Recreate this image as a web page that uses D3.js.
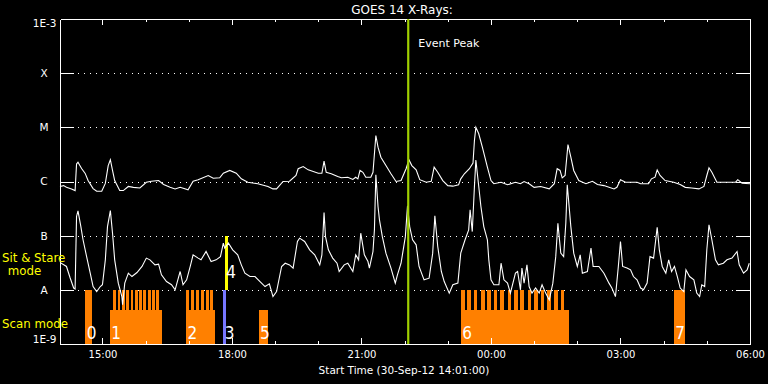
<!DOCTYPE html>
<html><head><meta charset="utf-8">
<script src="https://cdn.jsdelivr.net/npm/d3@7"></script>
<style>html,body{margin:0;padding:0;background:#000;}svg{display:block;}</style>
</head><body>
<svg id="chart" width="768" height="384"></svg>
<script>
// ---------------- DATA ----------------
// time = minutes after 30-Sep-2012 14:00 UT ; flux in W/m^2
const titleText = "GOES 14 X-Rays:";
const xAxisTitle = "Start Time (30-Sep-12 14:01:00)";
const timeDomain = [1, 960];               // 14:01 .. 06:00
const timeTickMinutes = [60, 240, 420, 600, 780, 960];
const timeTickLabels = ["15:00", "18:00", "21:00", "00:00", "03:00", "06:00"];
const fluxDomain = [1e-9, 1e-3];
const classFlux = [1e-8, 1e-7, 1e-6, 1e-5, 1e-4];
const classLabels = ["A", "B", "C", "M", "X"];
const endFlux = [1e-9, 1e-3];
const endLabels = ["1E-9", "1E-3"];
const eventPeakMinute = 485;
const eventPeakLabel = "Event Peak";

// GOES long channel (1-8 A)
const goesLong = [[1,8.1e-7],[6,8.4e-7],[10,7.8e-7],[17,7.3e-7],[22,6.8e-7],[24,2.1e-6],[26,2.27e-6],[31,1.74e-6],[36,1.41e-6],[40,1.04e-6],[47,7.4e-7],[52,6.6e-7],[59,6.6e-7],[64,9.2e-7],[68,1.97e-6],[71,2.52e-6],[74,1.6e-6],[77,1.04e-6],[84,6.8e-7],[89,6.8e-7],[96,8.1e-7],[103,7.8e-7],[112,7.6e-7],[121,9.7e-7],[128,1.01e-6],[138,1.04e-6],[145,8.8e-7],[154,7.8e-7],[161,7.3e-7],[168,7.8e-7],[179,7.0e-7],[186,1.01e-6],[193,1.08e-6],[207,1.29e-6],[214,1.15e-6],[223,1.17e-6],[228,1.42e-6],[237,1.6e-6],[246,1.42e-6],[253,1.12e-6],[262,9.7e-7],[276,9.1e-7],[290,8.1e-7],[297,7.3e-7],[302,7.3e-7],[311,1.0e-6],[320,1.01e-6],[329,1.29e-6],[332,1.72e-6],[339,1.89e-6],[346,1.64e-6],[360,1.42e-6],[365,1.42e-6],[368,2.37e-6],[371,1.48e-6],[378,1.39e-6],[387,1.24e-6],[392,1.17e-6],[401,1.2e-6],[408,1.09e-6],[412,1.2e-6],[415,1.12e-6],[418,1.6e-6],[422,1.48e-6],[426,1.2e-6],[433,1.2e-6],[436,1.48e-6],[440,7.07e-6],[443,4.3e-6],[447,2.81e-6],[454,1.97e-6],[461,1.39e-6],[468,1.0e-6],[475,1.04e-6],[482,1.72e-6],[486,2.52e-6],[490,1.97e-6],[496,1.64e-6],[501,1.08e-6],[510,9.7e-7],[517,1.01e-6],[521,1.84e-6],[526,1.48e-6],[533,1.04e-6],[540,8.4e-7],[547,8.2e-7],[555,8.7e-7],[558,1.12e-6],[563,1.39e-6],[570,1.72e-6],[575,2.18e-6],[577,5.7e-6],[579,1.0e-5],[583,7.6e-6],[588,4.3e-6],[595,1.84e-6],[600,1.04e-6],[604,9.1e-7],[614,9.7e-7],[623,8.7e-7],[634,9.7e-7],[641,9.1e-7],[646,1.0e-6],[653,9.1e-7],[660,7.8e-7],[669,8.1e-7],[681,7.3e-7],[688,9.1e-7],[692,1.72e-6],[696,1.6e-6],[699,1.17e-6],[703,1.29e-6],[707,4.82e-6],[711,2.81e-6],[715,1.6e-6],[722,1.04e-6],[732,9.1e-7],[741,1.01e-6],[748,8.8e-7],[757,8.4e-7],[771,7.3e-7],[775,7.8e-7],[780,1.08e-6],[787,9.7e-7],[803,9.7e-7],[808,9.1e-7],[819,9.1e-7],[823,1.12e-6],[828,1.2e-6],[831,1.64e-6],[835,1.29e-6],[842,1.04e-6],[854,9.7e-7],[863,8.8e-7],[870,7.8e-7],[879,7.6e-7],[889,7.3e-7],[896,8.1e-7],[900,1.29e-6],[903,1.79e-6],[907,1.48e-6],[914,9.7e-7],[940,9.7e-7],[943,1.08e-6],[949,9.3e-7],[960,9.1e-7]];

// GOES short channel (0.5-4 A)
const goesShort = [[1,3.4e-8],[2,3.15e-8],[10,2.7e-8],[15,1.67e-8],[20,1.08e-8],[22,1.04e-8],[24,2.26e-7],[26,2.87e-7],[30,1.47e-7],[33,8.4e-8],[38,4.1e-8],[43,2.03e-8],[47,1.15e-8],[52,9.3e-9],[57,1.15e-8],[60,1.24e-8],[64,3.58e-8],[67,1.47e-7],[71,2.9e-7],[74,1.11e-7],[77,3.58e-8],[82,1.33e-8],[87,7.5e-9],[88,5.3e-9],[91,1.33e-8],[96,2.03e-8],[101,1.76e-8],[108,2.09e-8],[115,2.7e-8],[121,3.85e-8],[126,3.58e-8],[133,2.89e-8],[138,2.98e-8],[142,1.89e-8],[149,1.42e-8],[156,1.24e-8],[161,1.0e-8],[166,1.76e-8],[168,2.18e-8],[172,1.24e-8],[177,1.53e-8],[182,2.7e-8],[186,4.43e-8],[193,3.85e-8],[197,3.58e-8],[204,5.1e-8],[211,3.33e-8],[218,3.58e-8],[224,4.1e-8],[228,7.3e-8],[230,5.9e-8],[235,7.3e-8],[241,5.48e-8],[248,4.43e-8],[253,2.89e-8],[258,2.03e-8],[265,1.76e-8],[272,1.76e-8],[279,1.42e-8],[286,1.15e-8],[292,1.29e-8],[297,7.5e-9],[302,9.3e-9],[309,2.7e-8],[314,3.1e-8],[320,2.89e-8],[325,2.52e-8],[331,7.8e-8],[334,9.0e-8],[341,7.8e-8],[348,5.48e-8],[355,4.43e-8],[362,2.89e-8],[365,4.43e-8],[368,2.68e-7],[370,9.6e-8],[374,5.48e-8],[380,3.85e-8],[386,3.1e-8],[389,2.18e-8],[396,2.89e-8],[401,3.1e-8],[408,2.18e-8],[412,4.43e-8],[416,3.58e-8],[419,1.11e-7],[424,4.43e-8],[429,3.33e-8],[431,2.52e-8],[436,5.1e-8],[438,1.28e-7],[440,1.33e-6],[443,3.45e-7],[445,1.96e-7],[449,9.6e-8],[454,4.76e-8],[461,2.52e-8],[467,1.33e-8],[470,1.89e-8],[475,3.1e-8],[481,9.6e-8],[484,3.55e-7],[487,1.47e-7],[491,8.4e-8],[496,6.78e-8],[500,2.7e-8],[507,1.53e-8],[514,1.64e-8],[519,4.76e-8],[522,2.32e-7],[526,6.3e-8],[531,2.18e-8],[535,1.42e-8],[542,8.7e-9],[547,1.24e-8],[554,1.33e-8],[558,4.76e-8],[564,8.4e-8],[569,1.28e-7],[571,3.0e-7],[574,1.19e-7],[577,8.1e-7],[579,2.5e-6],[583,8.1e-7],[586,3.45e-7],[590,1.47e-7],[595,8.4e-8],[597,3.58e-8],[600,1.53e-8],[604,1.24e-8],[611,1.24e-8],[614,3.1e-8],[618,1.53e-8],[623,1.33e-8],[627,8.7e-9],[634,2.03e-8],[637,2.18e-8],[641,1.0e-8],[643,2.52e-8],[646,1.33e-8],[650,2.89e-8],[653,1.15e-8],[657,8.7e-9],[662,1.08e-8],[667,8.7e-9],[671,1.24e-8],[676,8.7e-9],[681,6.5e-9],[686,1.33e-8],[690,4.1e-8],[693,1.69e-7],[697,4.76e-8],[701,4.1e-8],[704,1.69e-7],[706,8.7e-7],[711,1.47e-7],[715,4.76e-8],[720,2.7e-8],[724,4.43e-8],[727,2.03e-8],[734,2.18e-8],[739,5.9e-8],[742,2.7e-8],[750,2.7e-8],[757,2.03e-8],[764,1.33e-8],[768,1.08e-8],[771,8.7e-9],[773,7.5e-9],[777,2.7e-8],[780,7.8e-8],[783,2.7e-8],[789,2.52e-8],[794,2.34e-8],[798,1.76e-8],[803,1.53e-8],[808,1.08e-8],[812,1.0e-8],[817,1.33e-8],[821,4.1e-8],[826,3.85e-8],[831,1.43e-7],[834,5.48e-8],[838,2.7e-8],[843,2.03e-8],[847,3.58e-8],[851,2.18e-8],[855,2.7e-8],[859,1.76e-8],[863,1.08e-8],[868,9.3e-9],[871,2.34e-8],[876,1.76e-8],[882,1.53e-8],[886,8.7e-9],[890,7.5e-9],[893,1.24e-8],[897,1.15e-8],[900,5.48e-8],[903,1.59e-7],[907,8.4e-8],[912,3.58e-8],[916,2.89e-8],[923,3.1e-8],[928,3.58e-8],[935,3.85e-8],[942,5.1e-8],[945,2.89e-8],[951,2.03e-8],[956,2.34e-8],[959,3.1e-8]];

// Observations (mode panel)
const obsIds    = ["0", "1", "2", "3", "4", "5", "6", "7"];
const obsStart  = [36, 70, 176, 228, 230, 277, 558, 854];
const obsEnd    = [46, 143, 217, 232, 234, 290, 708, 870];
const obsMode   = ["scan", "scan", "scan", "scan", "sit", "scan", "scan", "scan"];
const obsKind   = ["raster", "raster", "raster", "other", "sitstare", "raster", "raster", "raster"];
const obsCover  = [1, 0.63, 0.63, 1, 1, 0.63, 0.63, 1];   // fraction of the mode band
const modeLabels = ["Sit & Stare", "mode", "Scan mode"];
// individual full-band raster steps inside observations 1, 2 and 6
const stepStart = [75,81,87,93,99,105,111,117,123,129,135, 176,183,190,197,204,210, 558,567,576,586,595,604,613,623,632,641,651,660,669,678,688,697];
const stepEnd   = [79,85,91,97,103,109,115,121,127,133,139, 180,187,194,201,208,214, 564,572,581,591,600,609,618,628,637,646,656,665,674,683,693,702];

// ---------------- CHART ----------------
const svg = d3.select("#chart");
svg.append("rect").attr("width", 768).attr("height", 384).attr("fill", "#000");

const L = 60, R = 750, T = 19, B = 344;
const x = d3.scaleLinear().domain(timeDomain).range([L, R]);
const y = d3.scaleLog().domain(fluxDomain).range([B, T]);
const band = d3.scaleLinear().domain([0, 2]).range([y(1e-9), y(1e-7)]); // 0-1 scan, 1-2 sit&stare

const kindColor = {raster: "#ff8000", other: "#7777ff", sitstare: "#ffff00"};
const FONT = "'DejaVu Sans', 'Liberation Sans', sans-serif";

// dotted level lines
svg.append("g").selectAll("line").data(classFlux).join("line")
  .attr("x1", L + 18).attr("x2", R - 14)
  .attr("y1", d => Math.round(y(d)) + 0.5).attr("y2", d => Math.round(y(d)) + 0.5)
  .attr("stroke", "#fff").attr("stroke-width", 1).attr("stroke-dasharray", "1 5");

// observation bars
const obs = obsIds.map((id, i) => ({id, s: obsStart[i], e: obsEnd[i], mode: obsMode[i], kind: obsKind[i], cover: obsCover[i]}));
const gObs = svg.append("g").attr("shape-rendering", "crispEdges");
gObs.selectAll("rect.obs").data(obs).join("rect").attr("class", "obs")
  .attr("x", d => x(d.s)).attr("width", d => x(d.e) - x(d.s))
  .attr("y", d => { const b = d.mode === "sit" ? 1 : 0; return band(b + d.cover); })
  .attr("height", d => { const b = d.mode === "sit" ? 1 : 0; return band(b) - band(b + d.cover); })
  .attr("fill", d => kindColor[d.kind]);
const steps = stepStart.map((s, i) => ({s, e: stepEnd[i]}));
gObs.selectAll("rect.step").data(steps).join("rect").attr("class", "step")
  .attr("x", d => x(d.s)).attr("width", d => x(d.e) - x(d.s))
  .attr("y", band(1)).attr("height", band(0) - band(1))
  .attr("fill", kindColor.raster);

// GOES curves
const line = d3.line().x(d => x(d[0])).y(d => y(d[1]));
[goesLong, goesShort].forEach(series => {
  svg.append("path").datum(series).attr("d", line)
    .attr("fill", "none").attr("stroke", "#fff").attr("stroke-width", 1.1)
    .attr("stroke-linejoin", "miter");
});

// axes
const hourTicks = d3.range(60, 961, 60);
const axG = svg.append("g").attr("shape-rendering", "crispEdges");
function styleAxis(g) {
  g.selectAll("path,line").attr("stroke", "#fff");
  g.selectAll("text").attr("fill", "#fff").attr("font-family", FONT);
}
axG.append("g").attr("transform", `translate(0,${B})`)
  .call(d3.axisBottom(x).tickValues(hourTicks).tickSizeInner(-3).tickSizeOuter(0).tickFormat(""))
  .call(styleAxis);
axG.append("g").attr("transform", `translate(0,${B})`)
  .call(d3.axisBottom(x).tickValues(timeTickMinutes).tickSizeInner(-6).tickSizeOuter(0).tickPadding(7)
    .tickFormat((d, i) => timeTickLabels[i]))
  .call(g => g.select(".domain").remove())
  .call(styleAxis)
  .call(g => g.selectAll("text").attr("font-size", 10));
axG.append("g").attr("transform", `translate(0,${T})`)
  .call(d3.axisTop(x).tickValues(hourTicks).tickSizeInner(-3).tickSizeOuter(0).tickFormat(""))
  .call(styleAxis);
axG.append("g").attr("transform", `translate(0,${T})`)
  .call(d3.axisTop(x).tickValues(timeTickMinutes).tickSizeInner(-6).tickSizeOuter(0).tickFormat(""))
  .call(g => g.select(".domain").remove())
  .call(styleAxis);
axG.append("g").attr("transform", `translate(${L},0)`)
  .call(d3.axisLeft(y).tickValues(classFlux).tickSizeInner(-14).tickSizeOuter(0)
    .tickFormat((d, i) => classLabels[i]))
  .call(styleAxis)
  .call(g => g.selectAll("text").attr("text-anchor", "middle").attr("x", -16).attr("font-size", 10.5));
axG.append("g").attr("transform", `translate(${R},0)`)
  .call(d3.axisRight(y).tickValues(classFlux).tickSizeInner(-14).tickSizeOuter(0).tickFormat(""))
  .call(styleAxis);

// end labels 1E-9 / 1E-3
svg.append("g").selectAll("text").data(endFlux).join("text")
  .attr("x", L - 3.5).attr("y", (d, i) => y(d) + (i === 0 ? -1 : 8))
  .attr("text-anchor", "end").attr("fill", "#fff").attr("font-family", FONT).attr("font-size", 10.5)
  .text((d, i) => endLabels[i]);

// mode labels
const ml = svg.append("g").attr("fill", "#ffff00").attr("font-family", FONT);
ml.append("text").attr("x", 2).attr("y", band(1.5) - 1).attr("font-size", 11.8).text(modeLabels[0]);
ml.append("text").attr("x", 24.5).attr("y", band(1.5) + 12).attr("font-size", 11.8)
  .attr("text-anchor", "middle").text(modeLabels[1]);
ml.append("text").attr("x", 2).attr("y", band(0.5) + 11).attr("font-size", 11.8).text(modeLabels[2]);

// observation numbers
svg.append("g").selectAll("text").data(obs).join("text")
  .attr("x", d => x(d.s) + 1.5)
  .attr("y", d => d.mode === "sit" ? band(1) - 12 : band(0) - 5)
  .attr("fill", "#fff").attr("font-family", "'Liberation Sans Narrow', 'DejaVu Sans Condensed', sans-serif")
  .attr("font-size", 17).text(d => d.id);

// event peak
svg.append("line").attr("x1", x(eventPeakMinute)).attr("x2", x(eventPeakMinute))
  .attr("y1", T).attr("y2", B).attr("stroke", "#a0d000").attr("stroke-width", 2.2);
svg.append("text").attr("x", x(eventPeakMinute) + 10).attr("y", 47)
  .attr("fill", "#fff").attr("font-family", FONT).attr("font-size", 11).text(eventPeakLabel);

// title and x title
svg.append("text").attr("x", 402).attr("y", 14).attr("text-anchor", "middle")
  .attr("fill", "#fff").attr("font-family", FONT).attr("font-size", 12).text(titleText);
svg.append("text").attr("x", 404).attr("y", 374).attr("text-anchor", "middle")
  .attr("fill", "#fff").attr("font-family", FONT).attr("font-size", 10.5).text(xAxisTitle);
</script>
</body></html>
